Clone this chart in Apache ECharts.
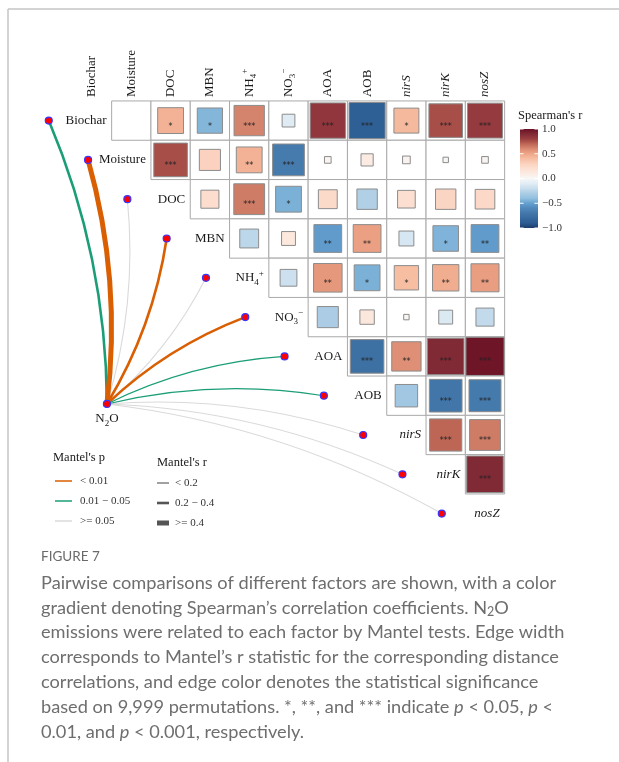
<!DOCTYPE html>
<html>
<head>
<meta charset="utf-8">
<script src="https://cdn.jsdelivr.net/npm/echarts@6/dist/echarts.min.js"></script>
<style>
  html, body { margin: 0; padding: 0; background: #ffffff; }
  #chart { width: 619px; height: 762px; }
</style>
</head>
<body>
<div id="chart"></div>
<script>
// ---------------- data ----------------
const variables = ['Biochar', 'Moisture', 'DOC', 'MBN', 'NH4', 'NO3', 'AOA', 'AOB', 'nirS', 'nirK', 'nosZ'];
const italicVariables = ['nirS', 'nirK', 'nosZ'];

// Spearman's r, upper triangle: row i lists the pairs (i, i+1), (i, i+2), ... (i, nosZ)
const spearmanR = [
  [0.00, 0.45, -0.43, 0.62, -0.11, 0.84, -0.88, 0.42, 0.76, 0.82],
  [0.76, 0.30, 0.45, -0.68, 0.03, 0.10, 0.04, 0.02, 0.03],
  [0.22, 0.64, -0.45, 0.24, -0.28, 0.21, 0.28, 0.26],
  [-0.24, 0.13, -0.52, 0.52, -0.15, -0.44, -0.52],
  [-0.19, 0.55, -0.45, 0.40, 0.47, 0.53],
  [-0.30, 0.14, 0.02, -0.13, -0.22],
  [-0.76, 0.58, 0.90, 0.98],
  [-0.34, -0.72, -0.69],
  [0.70, 0.64],
  [0.90]
];
const spearmanStars = [
  ['', '*', '*', '***', '', '***', '***', '*', '***', '***'],
  ['***', '', '**', '***', '', '', '', '', ''],
  ['', '***', '*', '', '', '', '', ''],
  ['', '', '**', '**', '', '*', '**'],
  ['', '**', '*', '*', '**', '**'],
  ['', '', '', '', ''],
  ['***', '**', '***', '***'],
  ['', '***', '***'],
  ['***', '***'],
  ['***']
];

// Mantel tests of N2O against each variable
const mantelR = [0.28, 0.52, 0.08, 0.31, 0.10, 0.33, 0.15, 0.17, 0.06, 0.05, 0.04];
const mantelP = [0.030, 0.001, 0.310, 0.004, 0.220, 0.002, 0.020, 0.030, 0.420, 0.550, 0.610];

const colorbarTicks = [-1.0, -0.5, 0.0, 0.5, 1.0];

// ---------------- styling ----------------
const SERIF = 'Liberation Serif';
const CAPTION_FONT = 'Lato';
const TEXT_DARK = '#1a1a1a';

const pClasses = [
  { label: '< 0.01', test: p => p < 0.01, color: '#D95F02' },
  { label: '0.01 \u2212 0.05', test: p => p >= 0.01 && p < 0.05, color: '#1B9E77' },
  { label: '>= 0.05', test: p => p >= 0.05, color: '#DADADA' }
];
const rClasses = [
  { label: '< 0.2', test: r => r < 0.2, width: 1.1 },
  { label: '0.2 \u2212 0.4', test: r => r >= 0.2 && r < 0.4, width: 2.6 },
  { label: '>= 0.4', test: r => r >= 0.4, width: 5 }
];

// diverging palette for Spearman's r
const paletteStops = [
  [-1.0, '#1E3B6B'], [-0.9, '#2C5C92'], [-0.8, '#386A9F'], [-0.7, '#4478AA'],
  [-0.6, '#5088BC'], [-0.5, '#64A0CF'], [-0.4, '#92C0DF'], [-0.3, '#ABCCE4'],
  [-0.2, '#C9DEEE'], [-0.1, '#E2EDF5'], [0.0, '#F7F7F7'], [0.1, '#FCEBE2'],
  [0.2, '#FCE0D2'], [0.3, '#FBD2BF'], [0.4, '#F7BEA2'], [0.5, '#EFA587'],
  [0.6, '#DA8A72'], [0.7, '#BE6656'], [0.8, '#9A3E40'], [0.9, '#802A35'], [1.0, '#6A1025']
];
function hexToRgb(h) {
  return [parseInt(h.slice(1, 3), 16), parseInt(h.slice(3, 5), 16), parseInt(h.slice(5, 7), 16)];
}
function rColor(v) {
  v = Math.max(-1, Math.min(1, v));
  for (let k = 0; k < paletteStops.length - 1; k++) {
    const [v0, c0] = paletteStops[k];
    const [v1, c1] = paletteStops[k + 1];
    if (v >= v0 && v <= v1) {
      const t = (v - v0) / (v1 - v0);
      const a = hexToRgb(c0), b = hexToRgb(c1);
      const m = a.map((x, j) => Math.round(x + (b[j] - x) * t));
      return 'rgb(' + m.join(',') + ')';
    }
  }
  return paletteStops[paletteStops.length - 1][1];
}

// ---------------- layout (axis units: one unit = one cell) ----------------
const CELL = 39.3;
const COL0_X = 92;      // pixel centre of the Biochar column
const ROW0_Y = 120.6;   // pixel centre of the Biochar row
const X_MIN = -2, X_MAX = 12.5, Y_MIN = -2, Y_MAX = 10.6;
const NODE_SHIFT = 1.1;          // link end points sit this far left of each row's diagonal
const N2O_POS = [0.38, 7.21];    // hub of the Mantel links
const LABEL_GAP = 5 / CELL;
const CURVATURE = 0.1;

// flatten the upper triangle into cells [col, row, r]
const cellData = [];
const cellStars = [];
spearmanR.forEach((rowVals, i) => {
  rowVals.forEach((r, k) => {
    cellData.push([i + 1 + k, i, r]);
    cellStars.push(spearmanStars[i][k]);
  });
});

function labelRich(name) {
  if (name === 'NH4') return '{m|NH}{sub|4}{sup|+}';
  if (name === 'NO3') return '{m|NO}{sub|3}{sup|\u2212}';
  return '{m|' + name + '}';
}
function richStyles(italic) {
  const fs = italic ? 'italic' : 'normal';
  return {
    m: { fontFamily: SERIF, fontSize: 13, fontStyle: fs, fill: TEXT_DARK, lineHeight: 18, verticalAlign: 'middle' },
    sub: { fontFamily: SERIF, fontSize: 9, fill: TEXT_DARK, lineHeight: 9, verticalAlign: 'bottom' },
    sup: { fontFamily: SERIF, fontSize: 9, fill: TEXT_DARK, lineHeight: 9, verticalAlign: 'top' }
  };
}

const chart = echarts.init(document.getElementById('chart'), null, { renderer: 'canvas' });

// ---------------- series ----------------
const cellSeries = {
  type: 'custom',
  coordinateSystem: 'cartesian2d',
  xAxisIndex: 0, yAxisIndex: 0,
  silent: true, clip: false, z: 2,
  data: cellData,
  renderItem(params, api) {
    const col = api.value(0), row = api.value(1), r = api.value(2);
    const c = api.coord([col, row]);
    const s = api.size([1, 1]);
    const w = s[0], h = s[1];
    const children = [{
      type: 'rect',
      shape: { x: c[0] - w / 2, y: c[1] - h / 2, width: w, height: h },
      style: { fill: '#ffffff', stroke: '#a9a9a9', lineWidth: 1 }
    }];
    const side = Math.min(w, h) * Math.sqrt(Math.abs(r)) * 0.98;
    if (side > 0.5) {
      children.push({
        type: 'rect',
        shape: { x: c[0] - side / 2, y: c[1] - side / 2, width: side, height: side },
        style: { fill: rColor(r), stroke: '#8c8c8c', lineWidth: 1 }
      });
    }
    const stars = cellStars[params.dataIndex];
    if (stars) {
      children.push({
        type: 'text',
        style: {
          text: stars, x: c[0], y: c[1] + 6, align: 'center', verticalAlign: 'middle',
          fontFamily: 'DejaVu Sans', fontSize: 8, fill: '#222222'
        }
      });
    }
    return { type: 'group', children };
  }
};

const linkSeries = {
  type: 'custom',
  coordinateSystem: 'cartesian2d',
  xAxisIndex: 0, yAxisIndex: 0,
  silent: true, clip: false, z: 3,
  data: mantelR.map((r, i) => [i, r, mantelP[i]]),
  renderItem(params, api) {
    const i = api.value(0), r = api.value(1), p = api.value(2);
    const a = api.coord(N2O_POS);
    const b = api.coord([i - NODE_SHIFT, i]);
    const dx = b[0] - a[0], dy = b[1] - a[1];
    // steep links bow to the right of their direction, flat ones to the left
    const k = (Math.abs(dy) > Math.abs(dx) ? 1 : -1) * CURVATURE;
    const cpx = (a[0] + b[0]) / 2 - k * dy;
    const cpy = (a[1] + b[1]) / 2 + k * dx;
    const pc = pClasses.find(c => c.test(p));
    const rc = rClasses.find(c => c.test(r));
    return {
      type: 'bezierCurve',
      z2: pc.color === '#DADADA' ? 0 : 1,
      shape: { x1: a[0], y1: a[1], x2: b[0], y2: b[1], cpx1: cpx, cpy1: cpy },
      style: { stroke: pc.color, lineWidth: rc.width, fill: 'none', lineCap: 'butt' }
    };
  }
};

const nodeData = variables.map((v, i) => [i - NODE_SHIFT, i]);
nodeData.push({
  value: N2O_POS,
  label: {
    show: true, position: 'bottom', distance: 2,
    formatter: '{m|N}{sub|2}{m|O}',
    rich: {
      m: { fontFamily: SERIF, fontSize: 13, color: TEXT_DARK, lineHeight: 18, verticalAlign: 'middle' },
      sub: { fontFamily: SERIF, fontSize: 9, color: TEXT_DARK, lineHeight: 9, verticalAlign: 'bottom' }
    }
  }
});
const nodeSeries = {
  type: 'scatter',
  xAxisIndex: 0, yAxisIndex: 0,
  silent: true, z: 4,
  symbol: 'circle', symbolSize: 7,
  itemStyle: { color: '#FF0000', borderColor: '#3535FF', borderWidth: 1.2, opacity: 1 },
  data: nodeData
};

const columnLabelSeries = {
  type: 'custom',
  coordinateSystem: 'cartesian2d',
  xAxisIndex: 0, yAxisIndex: 0,
  silent: true, clip: false, z: 5,
  data: variables.map((v, i) => [i, -0.6]),
  renderItem(params, api) {
    const name = variables[params.dataIndex];
    const p = api.coord([api.value(0), api.value(1)]);
    return {
      type: 'text', x: p[0], y: p[1], rotation: Math.PI / 2,
      style: {
        x: 0, y: 0, text: labelRich(name), rich: richStyles(italicVariables.includes(name)),
        align: 'left', verticalAlign: 'middle'
      }
    };
  }
};

const rowLabelSeries = {
  type: 'custom',
  coordinateSystem: 'cartesian2d',
  xAxisIndex: 0, yAxisIndex: 0,
  silent: true, clip: false, z: 5,
  data: variables.map((v, i) => [i + 0.5 - LABEL_GAP, i]),
  renderItem(params, api) {
    const name = variables[params.dataIndex];
    const p = api.coord([api.value(0), api.value(1)]);
    return {
      type: 'text', x: p[0], y: p[1],
      style: {
        x: 0, y: 0, text: labelRich(name), rich: richStyles(italicVariables.includes(name)),
        align: 'right', verticalAlign: 'middle'
      }
    };
  }
};

// colour bar for Spearman's r
const gradientStops = paletteStops.map(([v, c]) => ({ offset: (1 - v) / 2, color: c })).reverse();
const colorbarSeries = {
  type: 'custom',
  coordinateSystem: 'cartesian2d',
  xAxisIndex: 1, yAxisIndex: 1,
  silent: true, clip: false, z: 2,
  data: [[0, 1]],
  renderItem(params, api) {
    const tl = api.coord([0, 1]);
    const br = api.coord([1, -1]);
    return {
      type: 'rect',
      shape: { x: tl[0], y: tl[1], width: br[0] - tl[0], height: br[1] - tl[1] },
      style: { fill: new echarts.graphic.LinearGradient(0, 0, 0, 1, gradientStops) }
    };
  }
};
const colorbarTickSeries = {
  type: 'custom',
  coordinateSystem: 'cartesian2d',
  xAxisIndex: 1, yAxisIndex: 1,
  silent: true, clip: false, z: 3,
  data: colorbarTicks.map(v => [0, v]),
  renderItem(params, api) {
    const l = api.coord([0, api.value(1)]);
    const r = api.coord([1, api.value(1)]);
    const len = (r[0] - l[0]) / 5;
    return {
      type: 'group',
      children: [
        { type: 'line', shape: { x1: l[0], y1: l[1], x2: l[0] + len, y2: l[1] }, style: { stroke: '#ffffff', lineWidth: 1 } },
        { type: 'line', shape: { x1: r[0] - len, y1: r[1], x2: r[0], y2: r[1] }, style: { stroke: '#ffffff', lineWidth: 1 } }
      ]
    };
  }
};

// ---------------- legends, caption, frame ----------------
const graphics = [];
graphics.push({ type: 'line', shape: { x1: 8, y1: 9, x2: 619, y2: 9 }, style: { stroke: '#c4c4c4', lineWidth: 1.5 } });
graphics.push({ type: 'line', shape: { x1: 8, y1: 9, x2: 8, y2: 762 }, style: { stroke: '#c4c4c4', lineWidth: 1.5 } });

graphics.push({
  type: 'text', x: 518, y: 116,
  style: { text: "Spearman's r", fontFamily: SERIF, fontSize: 12.5, fill: TEXT_DARK, verticalAlign: 'middle' }
});

graphics.push({
  type: 'text', x: 53, y: 458,
  style: { text: "Mantel's p", fontFamily: SERIF, fontSize: 12.5, fill: TEXT_DARK, verticalAlign: 'middle' }
});
pClasses.forEach((c, j) => {
  const y = 481 + 20 * j;
  graphics.push({ type: 'line', shape: { x1: 55, y1: y, x2: 72, y2: y }, style: { stroke: c.color, lineWidth: 1.5 } });
  graphics.push({
    type: 'text', x: 80, y: y,
    style: { text: c.label, fontFamily: SERIF, fontSize: 11, fill: '#333333', verticalAlign: 'middle' }
  });
});
graphics.push({
  type: 'text', x: 157, y: 463,
  style: { text: "Mantel's r", fontFamily: SERIF, fontSize: 12.5, fill: TEXT_DARK, verticalAlign: 'middle' }
});
rClasses.forEach((c, j) => {
  const y = 483 + 20 * j;
  graphics.push({ type: 'line', shape: { x1: 157, y1: y, x2: 169, y2: y }, style: { stroke: '#555555', lineWidth: c.width } });
  graphics.push({
    type: 'text', x: 175, y: y,
    style: { text: c.label, fontFamily: SERIF, fontSize: 11, fill: '#333333', verticalAlign: 'middle' }
  });
});

const captionTitle = 'FIGURE 7';
const captionLines = [
  'Pairwise comparisons of different factors are shown, with a color',
  'gradient denoting Spearman\u2019s correlation coefficients. N{sub|2}O',
  'emissions were related to each factor by Mantel tests. Edge width',
  'corresponds to Mantel\u2019s r statistic for the corresponding distance',
  'correlations, and edge color denotes the statistical significance',
  'based on 9,999 permutations. *, **, and *** indicate {i|p} < 0.05, {i|p} <',
  '0.01, and {i|p} < 0.001, respectively.'
];
const CAPTION_X = 41;
const CAPTION_SIZE = 18.2;
const CAPTION_COLOR = '#6e6e6e';
graphics.push({
  type: 'text', x: CAPTION_X, y: 557,
  style: { text: captionTitle, fontFamily: CAPTION_FONT, fontSize: 13.5, fill: '#6a6a6a', verticalAlign: 'middle' }
});
captionLines.forEach((line, j) => {
  graphics.push({
    type: 'text', x: CAPTION_X, y: 583 + 24.8 * j,
    style: {
      text: line, fontFamily: CAPTION_FONT, fontSize: CAPTION_SIZE, fill: CAPTION_COLOR,
      verticalAlign: 'middle', lineHeight: 22,
      rich: {
        sub: { fontFamily: CAPTION_FONT, fontSize: 12.5, fill: CAPTION_COLOR, lineHeight: 12, verticalAlign: 'bottom' },
        i: { fontFamily: CAPTION_FONT, fontSize: CAPTION_SIZE, fontStyle: 'italic', fill: CAPTION_COLOR, lineHeight: 22 }
      }
    }
  });
});

// ---------------- option ----------------
const option = {
  backgroundColor: '#ffffff',
  animation: false,
  grid: [
    { left: COL0_X + X_MIN * CELL, top: ROW0_Y + Y_MIN * CELL, width: (X_MAX - X_MIN) * CELL, height: (Y_MAX - Y_MIN) * CELL },
    { left: 520, top: 129, width: 18, height: 99 }
  ],
  xAxis: [
    { type: 'value', gridIndex: 0, min: X_MIN, max: X_MAX, show: false },
    { type: 'value', gridIndex: 1, min: 0, max: 1, show: false }
  ],
  yAxis: [
    { type: 'value', gridIndex: 0, min: Y_MIN, max: Y_MAX, inverse: true, show: false },
    {
      type: 'value', gridIndex: 1, min: -1, max: 1, interval: 0.5, position: 'right',
      axisLine: { show: false }, axisTick: { show: false }, splitLine: { show: false },
      axisLabel: {
        margin: 4, fontFamily: SERIF, fontSize: 11, color: '#333333',
        formatter: v => (v < 0 ? '\u2212' : '') + Math.abs(v).toFixed(1)
      }
    }
  ],
  series: [cellSeries, linkSeries, nodeSeries, columnLabelSeries, rowLabelSeries, colorbarSeries, colorbarTickSeries],
  graphic: graphics
};
chart.setOption(option);
</script>
</body>
</html>
